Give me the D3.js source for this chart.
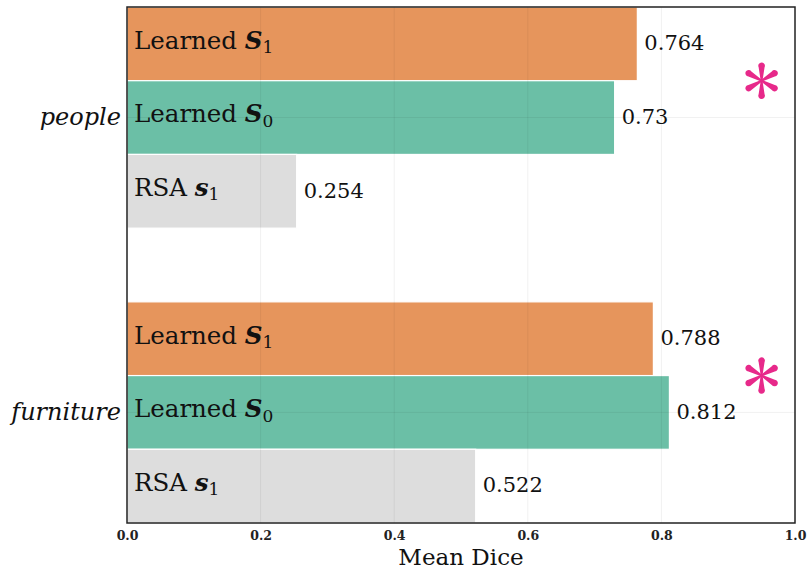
<!DOCTYPE html>
<html>
<head>
<meta charset="utf-8">
<script src="https://cdn.jsdelivr.net/npm/d3@7"></script>
<style>
  body { margin: 0; background: #fff; }
  text { font-family: "DejaVu Serif", "Liberation Serif", serif; }
</style>
</head>
<body>
<svg id="chart" width="808" height="573"></svg>
<script>
// data
const groups = ['people', 'furniture'];
const models = ['Learned S1', 'Learned S0', 'RSA s1'];
const people = [0.764, 0.73, 0.254];
const furniture = [0.788, 0.812, 0.522];
const xTicks = [0.0, 0.2, 0.4, 0.6, 0.8, 1.0];
const significant = [true, true]; // star per group

const colors = ['#e6955c', '#6bbfa6', '#dddddd'];
const labelParts = [
  { base: 'Learned ', sym: 'S', sub: '1' },
  { base: 'Learned ', sym: 'S', sub: '0' },
  { base: 'RSA ', sym: 's', sub: '1' }
];

const margin = { top: 7, right: 13, bottom: 50, left: 127 };
const width = 808, height = 573;
const innerW = width - margin.left - margin.right;
const innerH = height - margin.top - margin.bottom;

const svg = d3.select('#chart');
const g = svg.append('g').attr('transform', `translate(${margin.left},${margin.top})`);

// 7 slots: 3 bars, gap, 3 bars
const slots = [];
groups.forEach((grp, gi) => {
  models.forEach((m, mi) => slots.push(`${grp}-${mi}`));
  if (gi < groups.length - 1) slots.push(`gap-${gi}`);
});

const x = d3.scaleLinear().domain([0, 1]).range([0, innerW]);
const y = d3.scaleBand().domain(slots).range([0, innerH]).padding(0);

const rows = [];
[people, furniture].forEach((vals, gi) => {
  vals.forEach((v, mi) => rows.push({ group: groups[gi], gi, mi, value: v, key: `${groups[gi]}-${mi}` }));
});

// bars
g.selectAll('rect.bar')
  .data(rows)
  .enter().append('rect')
  .attr('class', 'bar')
  .attr('x', 0)
  .attr('y', d => y(d.key))
  .attr('width', d => x(d.value))
  .attr('height', y.bandwidth())
  .attr('fill', d => colors[d.mi])
  .attr('stroke', '#fff')
  .attr('stroke-width', 1.2);

// grid drawn faintly over the bars
const grid = g.append('g');
grid.selectAll('line.vx')
  .data(xTicks.slice(1, -1))
  .enter().append('line')
  .attr('x1', d => x(d)).attr('x2', d => x(d))
  .attr('y1', 0).attr('y2', innerH)
  .attr('stroke', '#000').attr('stroke-opacity', 0.06).attr('stroke-width', 1);
grid.selectAll('line.hy')
  .data(groups)
  .enter().append('line')
  .attr('x1', 0).attr('x2', innerW)
  .attr('y1', d => y(`${d}-1`) + y.bandwidth() / 2)
  .attr('y2', d => y(`${d}-1`) + y.bandwidth() / 2)
  .attr('stroke', '#000').attr('stroke-opacity', 0.06).attr('stroke-width', 1);

// labels inside bars
const inner = g.selectAll('text.inner')
  .data(rows)
  .enter().append('text')
  .attr('class', 'inner')
  .attr('x', 7)
  .attr('y', d => y(d.key) + y.bandwidth() / 2)
  .attr('dy', '0.2em')
  .attr('font-size', 24.5)
  .attr('fill', '#111');
inner.append('tspan').text(d => labelParts[d.mi].base);
inner.append('tspan')
  .attr('font-style', 'italic')
  .attr('font-weight', 'bold')
  .text(d => labelParts[d.mi].sym);
inner.append('tspan')
  .attr('font-size', 17)
  .attr('dy', '0.25em')
  .text(d => labelParts[d.mi].sub);

// value labels
g.selectAll('text.val')
  .data(rows)
  .enter().append('text')
  .attr('class', 'val')
  .attr('x', d => x(d.value) + 7)
  .attr('y', d => y(d.key) + y.bandwidth() / 2)
  .attr('dy', '0.3em')
  .attr('font-size', 21)
  .attr('fill', '#111')
  .text(d => d.value);

// significance stars at S1/S0 boundary: six teardrop spokes
const stars = g.selectAll('g.star')
  .data(groups.filter((d, i) => significant[i]))
  .enter().append('g')
  .attr('class', 'star')
  .attr('transform', d => `translate(${x(0.95)},${y(`${d}-1`)})`);
const spokes = d3.range(6).map(i => i * Math.PI / 3);
stars.selectAll('path')
  .data(spokes)
  .enter().append('path')
  .attr('d', a => {
    const tip = 13.5, r = 3.3;
    const dx = Math.sin(a), dy = -Math.cos(a);
    const px = Math.cos(a), py = Math.sin(a);
    const cx = dx * tip, cy = dy * tip;
    return `M${px * 0.9},${py * 0.9} L${cx + px * r * 0.9},${cy + py * r * 0.9} ` +
      `A${r},${r} 0 1,0 ${cx - px * r * 0.9},${cy - py * r * 0.9} L${-px * 0.9},${-py * 0.9} Z`;
  })
  .attr('fill', '#e7298a');

// frame
g.append('rect')
  .attr('x', 0).attr('y', 0)
  .attr('width', innerW).attr('height', innerH)
  .attr('fill', 'none')
  .attr('stroke', '#222').attr('stroke-width', 1.5);

// x axis
const xAxis = g.append('g')
  .attr('transform', `translate(0,${innerH})`)
  .call(d3.axisBottom(x).tickValues(xTicks).tickFormat(d3.format('.1f')).tickSize(0).tickPadding(8));
xAxis.select('.domain').remove();
xAxis.selectAll('text')
  .attr('font-family', '"DejaVu Serif", serif')
  .attr('font-weight', 'bold')
  .attr('font-size', 12.5)
  .attr('fill', '#222');

g.append('text')
  .attr('x', innerW / 2)
  .attr('y', innerH + 42)
  .attr('text-anchor', 'middle')
  .attr('font-size', 23)
  .attr('fill', '#111')
  .text('Mean Dice');

// group labels
g.selectAll('text.grp')
  .data(groups)
  .enter().append('text')
  .attr('class', 'grp')
  .attr('x', -6)
  .attr('y', d => y(`${d}-1`) + y.bandwidth() / 2)
  .attr('dy', '0.3em')
  .attr('text-anchor', 'end')
  .attr('font-style', 'italic')
  .attr('font-size', 24)
  .attr('fill', '#111')
  .text(d => d);
</script>
</body>
</html>
